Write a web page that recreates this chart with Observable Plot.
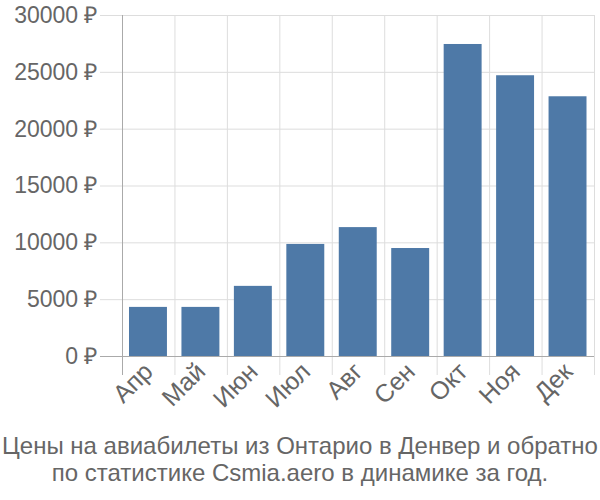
<!DOCTYPE html>
<html>
<head>
<meta charset="utf-8">
<script src="https://cdn.jsdelivr.net/npm/d3@7"></script>
<script src="https://cdn.jsdelivr.net/npm/@observablehq/plot@0.6"></script>
<style>
  body { margin: 0; background: #fff; font-family: "Liberation Sans", Arial, sans-serif; }
  #chart svg { display: block; }
  .caption { width: 600px; text-align: center; color: #666; font-size: 24px; line-height: 27px; margin-top: 0px; white-space: nowrap; }
</style>
</head>
<body>
<div id="chart"></div>
<div class="caption">Цены на авиабилеты из Онтарио в Денвер и обратно<br>по статистике Csmia.aero в динамике за год.</div>
<script>
const months = ["Апр", "Май", "Июн", "Июл", "Авг", "Сен", "Окт", "Ноя", "Дек"];
const prices = [4320, 4320, 6170, 9860, 11340, 9500, 27450, 24700, 22850];
const yTicks = [0, 5000, 10000, 15000, 20000, 25000, 30000];

const data = months.map((m, i) => ({ i, month: m, price: prices[i] }));
const edges = d3.range(months.length + 1);
const centers = months.map((m, i) => i + 0.5);

const textColor = "#666";
const gridColor = "#ddd";
const axisColor = "#aaa";

const plot = Plot.plot({
  width: 600,
  height: 432,
  marginLeft: 122,
  marginRight: 6,
  marginTop: 15,
  marginBottom: 76,
  style: { fontFamily: "Liberation Sans, Arial, sans-serif", background: "#fff" },
  x: { type: "linear", domain: [0, months.length], label: null },
  y: { domain: [0, 30000], label: null },
  marks: [
    Plot.gridY(yTicks, { stroke: gridColor, strokeOpacity: 1 }),
    Plot.gridX(edges, { stroke: gridColor, strokeOpacity: 1 }),
    Plot.axisX(edges, { tickSize: 19, tickFormat: () => "", stroke: gridColor, strokeOpacity: 1, label: null }),
    Plot.axisX([0], { tickSize: 19, tickFormat: () => "", stroke: axisColor, strokeOpacity: 1, label: null }),
    Plot.axisX(centers, {
      tickSize: 0, tickPadding: 11, tickRotate: -45,
      tickFormat: (d) => months[Math.floor(d)],
      fontSize: 25, fill: textColor, label: null
    }),
    Plot.axisY(yTicks, {
      tickSize: 22, tickPadding: 3, stroke: gridColor, strokeOpacity: 1,
      tickFormat: (d) => d + " ₽", fontSize: 23, fill: textColor, label: null
    }),
    Plot.axisY([0], { tickSize: 22, tickFormat: () => "", stroke: axisColor, strokeOpacity: 1, label: null }),
    Plot.rectY(data, { x1: "i", x2: (d) => d.i + 1, y: "price", fill: "#4e79a7", insetLeft: 7, insetRight: 7.5 }),
    Plot.ruleY([0], { stroke: axisColor }),
    Plot.ruleX([0], { stroke: axisColor })
  ]
});
document.getElementById("chart").appendChild(plot);
</script>
</body>
</html>
